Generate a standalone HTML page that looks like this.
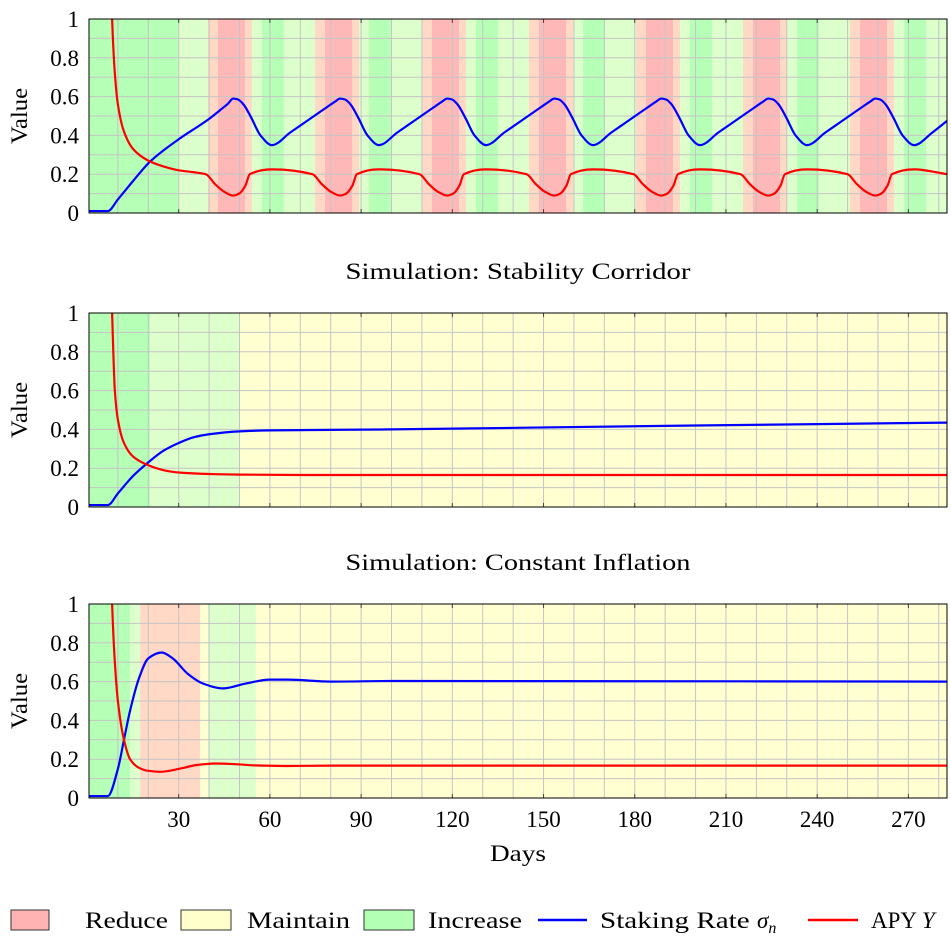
<!DOCTYPE html>
<html><head><meta charset="utf-8">
<style>
body{margin:0;background:#fff;}
svg{display:block;font-family:"Liberation Serif",serif;}
</style></head>
<body>
<svg id="chart" width="951" height="942" viewBox="0 0 951 942" xmlns="http://www.w3.org/2000/svg">
<g id="panels"></g>
<g font-size="23">
  <rect x="11" y="910" width="38" height="20" fill="#ffb3b3" stroke="#333" stroke-width="1"/>
  <text x="85" y="928" textLength="83" lengthAdjust="spacingAndGlyphs">Reduce</text>
  <rect x="181" y="910" width="50" height="20" fill="#ffffcc" stroke="#333" stroke-width="1"/>
  <text x="247" y="928" textLength="103" lengthAdjust="spacingAndGlyphs">Maintain</text>
  <rect x="364" y="910" width="50" height="20" fill="#b3ffb3" stroke="#333" stroke-width="1"/>
  <text x="428" y="928" textLength="94" lengthAdjust="spacingAndGlyphs">Increase</text>
  <line x1="538" y1="920" x2="587" y2="920" stroke="#0000ff" stroke-width="2.5"/>
  <text x="600" y="928"><tspan textLength="157" lengthAdjust="spacingAndGlyphs">Staking Rate </tspan><tspan font-style="italic">σ</tspan><tspan font-style="italic" font-size="16" dy="5">n</tspan></text>
  <line x1="808" y1="920" x2="858" y2="920" stroke="#ff0000" stroke-width="2.5"/>
  <text x="871" y="928">APY <tspan font-style="italic">Y</tspan></text>
</g>
</svg>
<script>
// ---- data ----
const xTicks = [30,60,90,120,150,180,210,240,270];
const yTicks = [0,0.2,0.4,0.6,0.8,1];
const yTickLabels = ["0","0.2","0.4","0.6","0.8","1"];
const panelTitles = ["", "Simulation: Stability Corridor", "Simulation: Constant Inflation"];

// bands: [startDay, endDay, category]  G=increase, g=weak increase, M=maintain, r=weak reduce, R=reduce
const bands1 = [[0.5,7,"G"],[7,20.6,"G"],[20.6,29.8,"G"],[29.8,39.6,"g"],
 [39.6,42.9,"r"],[42.9,51.8,"R"],[51.8,54.1,"r"],[54.1,57.4,"g"],[57.4,64.6,"G"],[64.6,74.8,"g"],
 [74.8,78.1,"r"],[78.1,87,"R"],[87,89.3,"r"],[89.3,92.6,"g"],[92.6,99.8,"G"],[99.8,110,"g"],
 [110,113.3,"r"],[113.3,122.2,"R"],[122.2,124.5,"r"],[124.5,127.8,"g"],[127.8,135,"G"],[135,145.2,"g"],
 [145.2,148.5,"r"],[148.5,157.4,"R"],[157.4,159.7,"r"],[159.7,163,"g"],[163,170.2,"G"],[170.2,180.4,"g"],
 [180.4,183.7,"r"],[183.7,192.6,"R"],[192.6,194.9,"r"],[194.9,198.2,"g"],[198.2,205.4,"G"],[205.4,215.6,"g"],
 [215.6,218.9,"r"],[218.9,227.8,"R"],[227.8,230.1,"r"],[230.1,233.4,"g"],[233.4,240.6,"G"],[240.6,250.8,"g"],
 [250.8,254.1,"r"],[254.1,263,"R"],[263,265.3,"r"],[265.3,268.6,"g"],[268.6,275.8,"G"],[275.8,282.7,"g"]];
const bands2 = [[0.5,20.6,"G"],[20.6,50.2,"g"],[50.2,282.7,"M"]];
const bands3 = [[0.5,14,"G"],[14,17.3,"g"],[17.3,37,"r"],[37,39.6,"M"],[39.6,55.4,"g"],[55.4,282.7,"M"]];

// series: days and values
const stakeDays1 = [0.5,6.7,10,15,20.6,30,40,44,46.3,47.9,49.5,51.3,53.9,56.9,60.7,
 66.7,72.7,78.7,81.5,83.1,84.7,86.5,89.1,92.1,95.9,
 101.9,107.9,113.9,116.7,118.3,119.9,121.7,124.3,127.3,131.1,
 137.1,143.1,149.1,151.9,153.5,155.1,156.9,159.5,162.5,166.3,
 172.3,178.3,184.3,187.1,188.7,190.3,192.1,194.7,197.7,201.5,
 207.5,213.5,219.5,222.3,223.9,225.5,227.3,229.9,232.9,236.7,
 242.7,248.7,254.7,257.5,259.1,260.7,262.5,265.1,268.1,271.9,
 277.9,282.7];
const stakeVals1 = [0.01,0.01,0.07,0.165,0.265,0.38,0.485,0.535,0.565,0.59,0.585,0.56,0.49,0.40,0.35,
 0.415,0.48,0.545,0.575,0.59,0.585,0.56,0.49,0.40,0.35,
 0.415,0.48,0.545,0.575,0.59,0.585,0.56,0.49,0.40,0.35,
 0.415,0.48,0.545,0.575,0.59,0.585,0.56,0.49,0.40,0.35,
 0.415,0.48,0.545,0.575,0.59,0.585,0.56,0.49,0.40,0.35,
 0.415,0.48,0.545,0.575,0.59,0.585,0.56,0.49,0.40,0.35,
 0.415,0.48,0.545,0.575,0.59,0.585,0.56,0.49,0.40,0.35,
 0.415,0.475];
const apyDays1 = [8.1,9,10,12,15,20,25,30,35,38.9,41.9,44.9,47.9,49.9,51.9,53.4,60.7,74,77,80,83.1,85.1,87.1,88.6,95.9,109.2,112.2,115.2,118.3,120.3,122.3,123.8,131.1,144.4,147.4,150.4,153.5,155.5,157.5,159,166.3,179.6,182.6,185.6,188.7,190.7,192.7,194.2,201.5,214.8,217.8,220.8,223.9,225.9,227.9,229.4,236.7,250,253,256,259.1,261.1,263.1,264.6,271.9,282.7];
const apyVals1 = [1.0,0.72,0.56,0.42,0.33,0.27,0.24,0.22,0.21,0.20,0.15,0.11,0.09,0.10,0.14,0.20,0.225,0.20,0.15,0.11,0.09,0.10,0.14,0.20,0.225,0.20,0.15,0.11,0.09,0.10,0.14,0.20,0.225,0.20,0.15,0.11,0.09,0.10,0.14,0.20,0.225,0.20,0.15,0.11,0.09,0.10,0.14,0.20,0.225,0.20,0.15,0.11,0.09,0.10,0.14,0.20,0.225,0.20,0.15,0.11,0.09,0.10,0.14,0.20,0.225,0.20];
const stakeDays2 = [0.5,6.7,10,15,20,25,30,35,40,50,60,100,150,200,282.7];
const stakeVals2 = [0.01,0.01,0.07,0.16,0.23,0.29,0.33,0.36,0.375,0.39,0.395,0.40,0.41,0.42,0.435];
const apyDays2 = [8.1,9,10,12,15,20,25,30,40,50,70,282.7];
const apyVals2 = [1.0,0.6,0.45,0.33,0.26,0.215,0.19,0.178,0.17,0.167,0.165,0.165];
const stakeDays3 = [0.5,6.7,10,12,14,17,20,24.4,28,33,38,44.6,52,60,66,80,100,282.7];
const stakeVals3 = [0.01,0.01,0.15,0.30,0.45,0.62,0.72,0.75,0.72,0.64,0.59,0.565,0.59,0.61,0.61,0.60,0.603,0.60];
const apyDays3 = [8.1,9,10,12,14,17,20,24,30,36,42,48,55,65,80,282.7];
const apyVals3 = [1.0,0.7,0.5,0.3,0.2,0.155,0.14,0.135,0.15,0.17,0.178,0.175,0.168,0.165,0.167,0.167];

// ---- drawing ----
const NS = "http://www.w3.org/2000/svg";
const X0 = 89, X1 = 947, DMIN = 0.5, DMAX = 282.7;
function xs(d){ return X0 + (d - DMIN) / (DMAX - DMIN) * (X1 - X0); }
const panels = [
 {top:19,bottom:213,bands:bands1,sd:stakeDays1,sv:stakeVals1,ad:apyDays1,av:apyVals1},
 {top:313,bottom:507,bands:bands2,sd:stakeDays2,sv:stakeVals2,ad:apyDays2,av:apyVals2},
 {top:604,bottom:798,bands:bands3,sd:stakeDays3,sv:stakeVals3,ad:apyDays3,av:apyVals3}
];
const bandColors = {G:"#b6ffb6",g:"#ddffcc",M:"#ffffd2",r:"#ffd8c6",R:"#ffb8b8"};
function el(tag, attrs, parent){
  const e = document.createElementNS(NS, tag);
  for (const k in attrs) e.setAttribute(k, attrs[k]);
  parent.appendChild(e); return e;
}
// monotone cubic (Fritsch-Carlson)
function monoPath(pts){
  const n = pts.length;
  const dx = [], dy = [], m = [];
  for (let i=0;i<n-1;i++){ dx[i]=pts[i+1][0]-pts[i][0]; dy[i]=pts[i+1][1]-pts[i][1]; m[i]=dy[i]/dx[i]; }
  const t = [m[0]];
  for (let i=1;i<n-1;i++){
    if (m[i-1]*m[i] <= 0) t[i]=0;
    else { const w1=2*dx[i]+dx[i-1], w2=dx[i]+2*dx[i-1]; t[i]=(w1+w2)/(w1/m[i-1]+w2/m[i]); }
  }
  t[n-1]=m[n-2];
  let d = "M" + pts[0][0].toFixed(2) + "," + pts[0][1].toFixed(2);
  for (let i=0;i<n-1;i++){
    const h = dx[i]/3;
    d += " C"+(pts[i][0]+h).toFixed(2)+","+(pts[i][1]+t[i]*h).toFixed(2)+" "+(pts[i+1][0]-h).toFixed(2)+","+(pts[i+1][1]-t[i+1]*h).toFixed(2)+" "+pts[i+1][0].toFixed(2)+","+pts[i+1][1].toFixed(2);
  }
  return d;
}
const root = document.getElementById("panels");
panels.forEach((p, pi) => {
  const ys = v => p.bottom - v * (p.bottom - p.top);
  const g = el("g", {}, root);
  
  
  const clipId = "clip" + pi;
  const cp = el("clipPath", {id: clipId}, g);
  el("rect", {x:X0, y:p.top, width:X1-X0, height:p.bottom-p.top}, cp);
  p.bands.forEach(b => {
    const r = el("rect", {x:xs(b[0]), y:p.top, width:Math.max(0,xs(b[1])-xs(b[0])), height:p.bottom-p.top, fill:bandColors[b[2]]}, g);
    
    
  });
  for (let d=10; d<DMAX; d+=10){
    const l = el("line", {x1:xs(d), x2:xs(d), y1:p.top, y2:p.bottom, stroke:"#c4c4c4", "stroke-width":1}, g);
    
    
  }
  for (let v=0.1; v<1; v+=0.1){
    const l = el("line", {x1:X0, x2:X1, y1:ys(v), y2:ys(v), stroke:"#c4c4c4", "stroke-width":1}, g);
    
    
  }
  yTicks.forEach((v, i) => {
    const t = el("text", {x:79, y:ys(v)+8, "text-anchor":"end", "font-size":23}, g);
    t.textContent = yTickLabels[i];
    
    
  });
  xTicks.forEach(d => {
    el("line", {x1:xs(d), x2:xs(d), y1:p.bottom, y2:p.bottom-4, stroke:"#444"}, g);
    el("line", {x1:xs(d), x2:xs(d), y1:p.top, y2:p.top+4, stroke:"#444"}, g);
    if (pi === 2){
      const t = el("text", {x:xs(d), y:p.bottom+29, "text-anchor":"middle", "font-size":23}, g);
      t.textContent = d;
      
      
    }
  });
  const cg = el("g", {"clip-path":"url(#"+clipId+")"}, g);
  const sp = el("path", {d:monoPath(p.sd.map((d,i)=>[xs(d), ys(p.sv[i])])), fill:"none", stroke:"#0000ff", "stroke-width":2.2}, cg);
  
  
  const apts = p.ad.map((d,i)=>[xs(d), ys(p.av[i])]);
  apts.unshift([xs(p.ad[0])-0.6, p.top-20]);
  const ap = el("path", {d:monoPath(apts), fill:"none", stroke:"#ff0000", "stroke-width":2.2}, cg);
  
  
  const fr = el("rect", {x:X0, y:p.top, width:X1-X0, height:p.bottom-p.top, fill:"none", stroke:"#000", "stroke-width":1}, g);
  
  
  const yl = el("text", {x:0, y:0, transform:"translate(27,"+((p.top+p.bottom)/2)+") rotate(-90)", "text-anchor":"middle", "font-size":23, textLength:56, lengthAdjust:"spacingAndGlyphs"}, g);
  yl.textContent = "Value";
  
  
  if (panelTitles[pi]){
    const tt = el("text", {x:518, y:p.top-34, "text-anchor":"middle", "font-size":23, textLength:345, lengthAdjust:"spacingAndGlyphs"}, g);
    tt.textContent = panelTitles[pi];
    
    
  }
});
const xl = el("text", {x:518, y:861, "text-anchor":"middle", "font-size":23, textLength:56, lengthAdjust:"spacingAndGlyphs"}, root);
xl.textContent = "Days";


</script>
</body></html>
